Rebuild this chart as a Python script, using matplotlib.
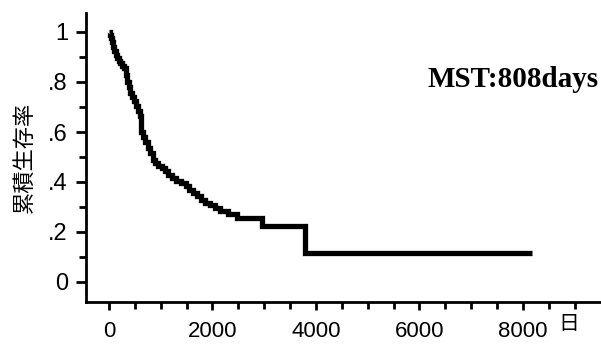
#!/usr/bin/env python3
"""
Kaplan-Meier cumulative survival curve (MST: 808 days).
"""

import matplotlib
matplotlib.use('Agg')
import matplotlib.pyplot as plt
from matplotlib.ticker import MultipleLocator

# Step times (days) and survival after each step
event_days = [0, 20, 40, 60, 80, 100, 130, 160, 190, 220, 260, 300, 330, 350,
              380, 410, 440, 480, 520, 560, 600, 620, 650, 700, 750, 800, 850,
              880, 950, 1020, 1080, 1150, 1220, 1300, 1400, 1480, 1550, 1620,
              1700, 1780, 1850, 1950, 2050, 2150, 2300, 2480, 2950, 3780]
survival = [1.0, 0.99, 0.975, 0.96, 0.94, 0.925, 0.91, 0.895, 0.885, 0.875,
            0.865, 0.855, 0.83, 0.80, 0.78, 0.755, 0.74, 0.725, 0.705, 0.685,
            0.665, 0.60, 0.58, 0.56, 0.535, 0.515, 0.49, 0.475, 0.465, 0.455,
            0.445, 0.43, 0.415, 0.405, 0.398, 0.385, 0.37, 0.357, 0.345, 0.33,
            0.318, 0.31, 0.295, 0.283, 0.272, 0.258, 0.223, 0.115]
last_followup = 8180

y_ticks = [0, 0.2, 0.4, 0.6, 0.8, 1.0]
y_tick_labels = ['0', '.2', '.4', '.6', '.8', '1']
x_ticks = [0, 2000, 4000, 6000, 8000]
x_tick_labels = ['0', '2000', '4000', '6000', '8000']

TICK_FONT = 'Liberation Sans'
CJK_FONT = ['Noto Sans CJK JP', 'DejaVu Sans']


def main():
    fig = plt.figure(figsize=(6.01, 3.47), dpi=100)
    ax = fig.add_axes([86 / 601, 45 / 347, 514 / 601, 289 / 347])

    xs = event_days + [last_followup]
    ys = survival + [survival[-1]]
    ax.step(xs, ys, where='post', color='black', linewidth=3.8,
            solid_joinstyle='miter', solid_capstyle='butt')

    ax.set_xlim(-444, 9490)
    ax.set_ylim(-0.08, 1.076)

    ax.spines['top'].set_visible(False)
    ax.spines['right'].set_visible(False)
    for side in ['left', 'bottom']:
        ax.spines[side].set_linewidth(2.0)

    ax.set_xticks(x_ticks)
    ax.set_xticklabels(x_tick_labels, fontsize=16, family=TICK_FONT)
    ax.xaxis.set_minor_locator(MultipleLocator(500))
    ax.set_yticks(y_ticks)
    ax.set_yticklabels(y_tick_labels, fontsize=17, family=TICK_FONT)
    ax.yaxis.set_minor_locator(MultipleLocator(0.1))

    ax.tick_params(axis='x', which='major', length=6, width=2, pad=8)
    ax.tick_params(axis='x', which='minor', length=5, width=2)
    ax.tick_params(axis='y', which='major', length=7, width=2, pad=6)
    ax.tick_params(axis='y', which='minor', length=5, width=2)

    # unit label after the last tick label
    ax.annotate('日', xy=(8880, 0), xycoords=('data', 'axes fraction'),
                xytext=(0, -8), textcoords='offset points',
                ha='center', va='top', fontsize=15, family=CJK_FONT)

    ax.set_ylabel('累積生存率', fontsize=16, family=CJK_FONT, labelpad=9)

    ax.text(0.997, 0.77, 'MST:808days', transform=ax.transAxes,
            ha='right', va='center', fontsize=21, fontweight='bold',
            family='Liberation Serif')

    fig.savefig('out.png', dpi=100)
    plt.close(fig)


if __name__ == "__main__":
    main()
